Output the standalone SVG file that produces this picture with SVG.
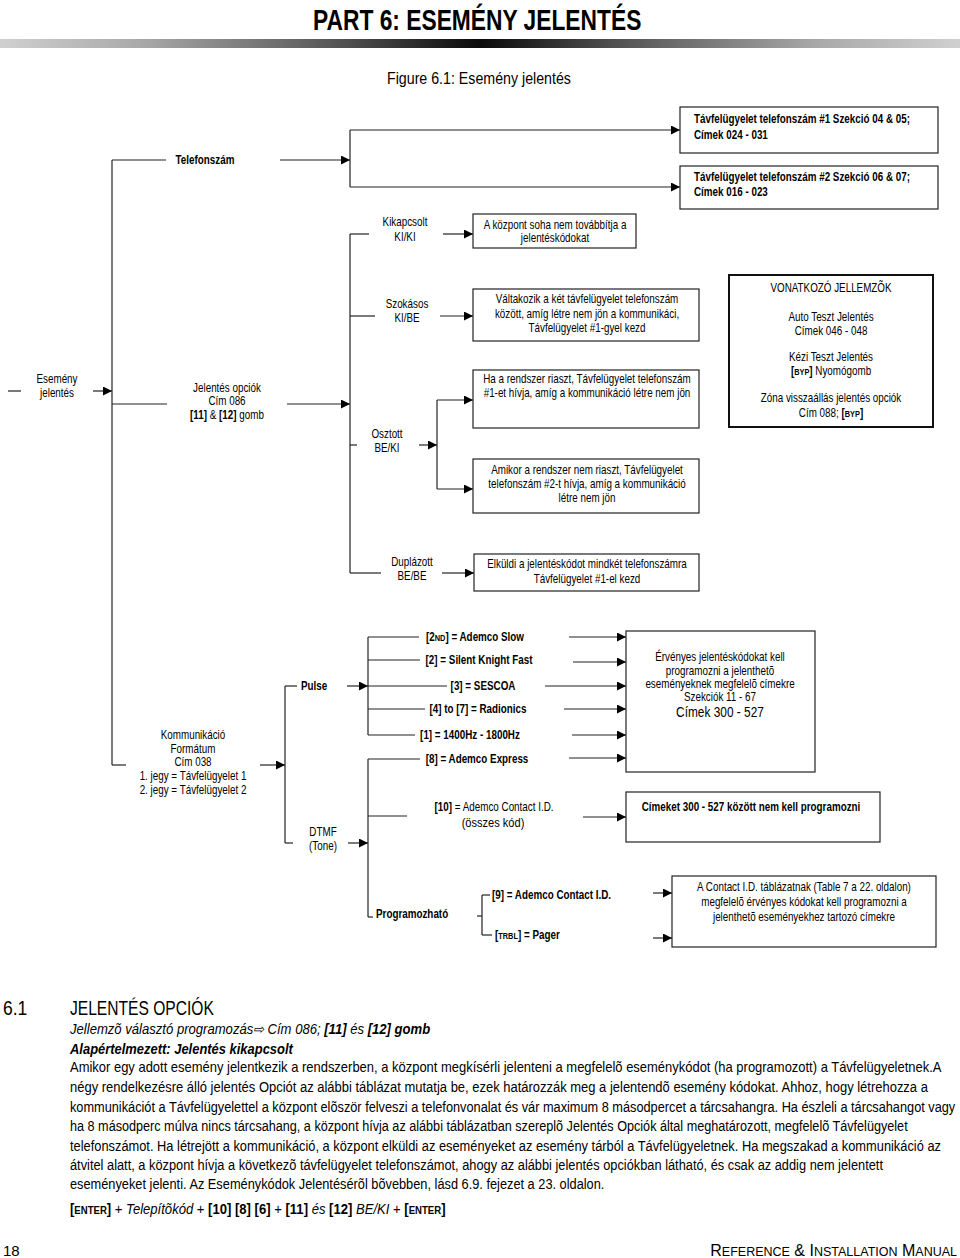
<svg xmlns="http://www.w3.org/2000/svg" width="960" height="1258" viewBox="0 0 960 1258">
<defs>
<linearGradient id="bar" x1="0" y1="0" x2="1" y2="0">
<stop offset="0" stop-color="#d0d0d0"/>
<stop offset="0.15" stop-color="#a8a8a8"/>
<stop offset="0.35" stop-color="#555"/>
<stop offset="0.5" stop-color="#0a0a0a"/>
<stop offset="0.65" stop-color="#555"/>
<stop offset="0.85" stop-color="#a8a8a8"/>
<stop offset="1" stop-color="#d0d0d0"/>
</linearGradient>
<marker id="ah" viewBox="0 0 10 10" refX="10" refY="5" markerWidth="9" markerHeight="9" markerUnits="userSpaceOnUse" orient="auto">
<path d="M0,0 L10,5 L0,10 z" fill="#000"/>
</marker>
</defs>
<style>
text{font-family:"Liberation Sans Narrow","Arial Narrow","Liberation Sans",Arial,sans-serif;fill:#000;font-size:12px}
.c{text-anchor:middle}
.b{font-weight:bold}
.i{font-style:italic}
.sc{font-size:9px}
.ln{stroke:#222;stroke-width:1.2;fill:none}
.ar{stroke:#222;stroke-width:1.2;fill:none;marker-end:url(#ah)}
.bx{fill:#fff;stroke:#222;stroke-width:1.2}
.p{font-size:14.5px}
</style>
<rect width="960" height="1258" fill="#fff"/>

<g id="header">
<text transform="translate(313 30) scale(.76 1)" class="b" style="font-size:30px">PART 6: ESEMÉNY JELENTÉS</text>
<rect x="0" y="39" width="960" height="9" fill="url(#bar)"/>
<text transform="translate(387 84) scale(.888 1)" style="font-size:16px">Figure 6.1:  Esemény jelentés</text>
</g>

<g id="connectors">
<line class="ln" x1="8" y1="391" x2="21" y2="391"/>
<line class="ar" x1="93" y1="391" x2="112" y2="391"/>
<line class="ln" x1="112" y1="160" x2="112" y2="765"/>
<line class="ln" x1="112" y1="160" x2="166" y2="160"/>
<line class="ar" x1="280" y1="160" x2="350" y2="160"/>
<line class="ln" x1="350" y1="130" x2="350" y2="187"/>
<line class="ar" x1="350" y1="130" x2="680" y2="130"/>
<line class="ar" x1="350" y1="187" x2="680" y2="187"/>
<line class="ln" x1="112" y1="404" x2="167" y2="404"/>
<line class="ar" x1="287" y1="404" x2="350" y2="404"/>
<line class="ln" x1="350" y1="234" x2="350" y2="573"/>
<line class="ln" x1="350" y1="234" x2="369" y2="234"/>
<line class="ar" x1="443" y1="234" x2="473" y2="234"/>
<line class="ln" x1="350" y1="316" x2="375" y2="316"/>
<line class="ar" x1="440" y1="316" x2="473" y2="316"/>
<line class="ln" x1="350" y1="445" x2="357" y2="445"/>
<line class="ar" x1="419" y1="445" x2="437" y2="445"/>
<line class="ln" x1="437" y1="400" x2="437" y2="489"/>
<line class="ar" x1="437" y1="400" x2="473" y2="400"/>
<line class="ar" x1="437" y1="489" x2="473" y2="489"/>
<line class="ln" x1="350" y1="573" x2="381" y2="573"/>
<line class="ar" x1="442" y1="573" x2="474" y2="573"/>
<line class="ln" x1="112" y1="765" x2="126" y2="765"/>
<line class="ar" x1="260" y1="765" x2="285" y2="765"/>
<line class="ln" x1="285" y1="686" x2="285" y2="843"/>
<line class="ln" x1="285" y1="686" x2="297" y2="686"/>
<line class="ar" x1="347" y1="686" x2="368" y2="686"/>
<line class="ln" x1="285" y1="843" x2="293" y2="843"/>
<line class="ar" x1="348" y1="843" x2="368" y2="843"/>
<line class="ln" x1="368" y1="637" x2="368" y2="735"/>
<line class="ln" x1="368" y1="637" x2="419" y2="637"/>
<line class="ln" x1="368" y1="660" x2="420" y2="660"/>
<line class="ln" x1="368" y1="686" x2="447" y2="686"/>
<line class="ln" x1="368" y1="709" x2="425" y2="709"/>
<line class="ln" x1="368" y1="735" x2="415" y2="735"/>
<line class="ln" x1="368" y1="759" x2="368" y2="917"/>
<line class="ln" x1="368" y1="759" x2="420" y2="759"/>
<line class="ln" x1="368" y1="816" x2="407" y2="816"/>
<line class="ln" x1="368" y1="917" x2="373" y2="917"/>
<line class="ar" x1="569" y1="637" x2="626" y2="637"/>
<line class="ar" x1="573" y1="662" x2="626" y2="662"/>
<line class="ar" x1="545" y1="686" x2="626" y2="686"/>
<line class="ar" x1="564" y1="709" x2="626" y2="709"/>
<line class="ar" x1="572" y1="735" x2="626" y2="735"/>
<line class="ar" x1="569" y1="758" x2="626" y2="758"/>
<line class="ar" x1="583" y1="817" x2="626" y2="817"/>
<line class="ln" x1="477" y1="916" x2="482" y2="916"/>
<line class="ln" x1="482" y1="895" x2="482" y2="935"/>
<line class="ln" x1="482" y1="895" x2="490" y2="895"/>
<line class="ln" x1="482" y1="935" x2="492" y2="935"/>
<line class="ar" x1="653" y1="893" x2="672" y2="893"/>
<line class="ar" x1="653" y1="938" x2="672" y2="938"/>
</g>

<g id="n-esemeny">
<text transform="translate(57 383) scale(.82 1)" class="c">Esemény</text>
<text transform="translate(57 397) scale(.82 1)" class="c">jelentés</text>
</g>
<g id="n-telefonszam">
<text transform="translate(205 164) scale(.82 1)" class="c b">Telefonszám</text>
</g>
<g id="n-tel1">
<rect class="bx" x="680" y="107" width="258" height="46"/>
<text transform="translate(694 123) scale(.82 1)" class="b">Távfelügyelet telefonszám #1 Szekció 04 &amp; 05;</text>
<text transform="translate(694 139) scale(.82 1)" class="b">Címek 024 - 031</text>
</g>
<g id="n-tel2">
<rect class="bx" x="680" y="166" width="258" height="43"/>
<text transform="translate(694 181) scale(.82 1)" class="b">Távfelügyelet telefonszám #2 Szekció 06 &amp; 07;</text>
<text transform="translate(694 196) scale(.82 1)" class="b">Címek 016 - 023</text>
</g>
<g id="n-jelopc">
<text transform="translate(227 392) scale(.82 1)" class="c">Jelentés opciók</text>
<text transform="translate(227 405) scale(.82 1)" class="c">Cím 086</text>
<text transform="translate(227 419) scale(.82 1)" class="c"><tspan class="b">[11]</tspan> &amp; <tspan class="b">[12]</tspan> gomb</text>
</g>
<g id="n-kikapcsolt">
<text transform="translate(405 226) scale(.82 1)" class="c">Kikapcsolt</text>
<text transform="translate(405 241) scale(.82 1)" class="c">KI/KI</text>
</g>
<g id="n-kikbox">
<rect class="bx" x="473" y="214" width="163" height="34"/>
<text transform="translate(555 229) scale(.82 1)" class="c">A központ soha nem továbbítja a</text>
<text transform="translate(555 242) scale(.82 1)" class="c">jelentéskódokat</text>
</g>
<g id="n-szokasos">
<text transform="translate(407 308) scale(.82 1)" class="c">Szokásos</text>
<text transform="translate(407 322) scale(.82 1)" class="c">KI/BE</text>
</g>
<g id="n-szokbox">
<rect class="bx" x="473" y="289" width="226" height="52"/>
<text transform="translate(587 303) scale(.82 1)" class="c">Váltakozik a két távfelügyelet telefonszám</text>
<text transform="translate(587 318) scale(.82 1)" class="c">között, amíg létre nem jön a kommunikáci,</text>
<text transform="translate(587 332) scale(.82 1)" class="c">Távfelügyelet  #1-gyel kezd</text>
</g>
<g id="n-osztott">
<text transform="translate(387 438) scale(.82 1)" class="c">Osztott</text>
<text transform="translate(387 452) scale(.82 1)" class="c">BE/KI</text>
</g>
<g id="n-osztbox1">
<rect class="bx" x="473" y="370" width="226" height="58"/>
<text transform="translate(587 383) scale(.82 1)" class="c">Ha a rendszer riaszt, Távfelügyelet telefonszám</text>
<text transform="translate(587 397) scale(.82 1)" class="c">#1-et hívja, amíg a kommunikáció létre nem jön</text>
</g>
<g id="n-osztbox2">
<rect class="bx" x="473" y="459" width="226" height="54"/>
<text transform="translate(587 474) scale(.82 1)" class="c">Amikor a rendszer nem riaszt, Távfelügyelet</text>
<text transform="translate(587 488) scale(.82 1)" class="c">telefonszám #2-t hívja, amíg a kommunikáció</text>
<text transform="translate(587 502) scale(.82 1)" class="c">létre nem jön</text>
</g>
<g id="n-vonatkozo">
<rect x="729" y="275" width="204" height="152" fill="#fff" stroke="#111" stroke-width="2"/>
<text transform="translate(831 292) scale(.82 1)" class="c">VONATKOZÓ JELLEMZÕK</text>
<text transform="translate(831 321) scale(.82 1)" class="c">Auto Teszt Jelentés</text>
<text transform="translate(831 335) scale(.82 1)" class="c">Címek 046 - 048</text>
<text transform="translate(831 361) scale(.82 1)" class="c">Kézi Teszt Jelentés</text>
<text transform="translate(831 375) scale(.82 1)" class="c"><tspan class="b">[<tspan class="sc">BYP</tspan>]</tspan> Nyomógomb</text>
<text transform="translate(831 402) scale(.82 1)" class="c">Zóna visszaállás jelentés opciók</text>
<text transform="translate(831 417) scale(.82 1)" class="c">Cím 088; <tspan class="b">[<tspan class="sc">BYP</tspan>]</tspan></text>
</g>
<g id="n-duplazott">
<text transform="translate(412 566) scale(.82 1)" class="c">Duplázott</text>
<text transform="translate(412 580) scale(.82 1)" class="c">BE/BE</text>
</g>
<g id="n-duplbox">
<rect class="bx" x="474" y="554" width="225" height="37"/>
<text transform="translate(587 568) scale(.82 1)" class="c">Elküldi a jelentéskódot mindkét telefonszámra</text>
<text transform="translate(587 583) scale(.82 1)" class="c">Távfelügyelet #1-el kezd</text>
</g>
<g id="n-kommunikacio">
<text transform="translate(193 739) scale(.82 1)" class="c">Kommunikáció</text>
<text transform="translate(193 753) scale(.82 1)" class="c">Formátum</text>
<text transform="translate(193 766) scale(.82 1)" class="c">Cím 038</text>
<text transform="translate(193 780) scale(.82 1)" class="c">1. jegy = Távfelügyelet 1</text>
<text transform="translate(193 794) scale(.82 1)" class="c">2. jegy = Távfelügyelet 2</text>
</g>
<g id="n-pulse">
<text transform="translate(314 690) scale(.82 1)" class="c b">Pulse</text>
</g>
<g id="n-dtmf">
<text transform="translate(323 836) scale(.82 1)" class="c">DTMF</text>
<text transform="translate(323 850) scale(.82 1)" class="c">(Tone)</text>
</g>
<g id="n-opt2nd"><text transform="translate(475 641) scale(.82 1)" class="c b">[2<tspan class="sc">ND</tspan>] = Ademco Slow</text></g>
<g id="n-opt2"><text transform="translate(479 664) scale(.82 1)" class="c b">[2] = Silent Knight Fast</text></g>
<g id="n-opt3"><text transform="translate(483 690) scale(.82 1)" class="c b">[3] = SESCOA</text></g>
<g id="n-opt4"><text transform="translate(478 713) scale(.82 1)" class="c b">[4] to [7] = Radionics</text></g>
<g id="n-opt1"><text transform="translate(470 739) scale(.82 1)" class="c b">[1] = 1400Hz - 1800Hz</text></g>
<g id="n-opt8"><text transform="translate(477 763) scale(.82 1)" class="c b">[8] = Ademco Express</text></g>
<g id="n-opt10">
<text transform="translate(494 811) scale(.82 1)" class="c"><tspan class="b">[10]</tspan> = Ademco Contact I.D.</text>
<text transform="translate(493 827) scale(.82 1)" class="c" style="font-size:13.5px">(összes kód)</text>
</g>
<g id="n-bigbox">
<rect class="bx" x="626" y="631" width="189" height="141"/>
<text transform="translate(720 661) scale(.82 1)" class="c">Érvényes jelentéskódokat kell</text>
<text transform="translate(720 675) scale(.82 1)" class="c">programozni a jelenthetõ</text>
<text transform="translate(720 688) scale(.82 1)" class="c">eseményeknek megfelelõ címekre</text>
<text transform="translate(720 701) scale(.82 1)" class="c">Szekciók 11 - 67</text>
<text transform="translate(720 717) scale(.82 1)" class="c" style="font-size:14.5px">Címek 300 - 527</text>
</g>
<g id="n-cimbox">
<rect class="bx" x="626" y="792" width="254" height="50"/>
<text transform="translate(751 811) scale(.82 1)" class="c b">Címeket 300 - 527 között nem kell programozni</text>
</g>
<g id="n-programozhato">
<text transform="translate(376 918) scale(.82 1)" class="b">Programozható</text>
</g>
<g id="n-opt9"><text transform="translate(492 899) scale(.82 1)" class="b">[9] = Ademco Contact I.D.</text></g>
<g id="n-trbl"><text transform="translate(495 939) scale(.82 1)" class="b">[<tspan class="sc">TRBL</tspan>] = Pager</text></g>
<g id="n-cidbox">
<rect class="bx" x="672" y="876" width="264" height="71"/>
<text transform="translate(804 891) scale(.82 1)" class="c">A Contact I.D. táblázatnak (Table 7 a 22. oldalon)</text>
<text transform="translate(804 906) scale(.82 1)" class="c">megfelelõ érvényes kódokat kell programozni a</text>
<text transform="translate(804 921) scale(.82 1)" class="c">jelenthetõ eseményekhez tartozó címekre</text>
</g>

<g id="body-text">
<text transform="translate(3 1015) scale(.875 1)" style="font-size:20px">6.1</text>
<text transform="translate(70 1015) scale(.78 1)" style="font-size:20px">JELENTÉS OPCIÓK</text>
<text transform="translate(70 1034) scale(.935 1)" class="i" style="font-size:14px">Jellemzõ választó programozás⇨ Cím 086; <tspan class="b">[11]</tspan> és <tspan class="b">[12] gomb</tspan></text>
<text transform="translate(70 1054) scale(.925 1)" class="b i" style="font-size:14px">Alapértelmezett: Jelentés kikapcsolt</text>
<text transform="translate(70 1072) scale(.894 1)" class="p">Amikor egy adott esemény jelentkezik a rendszerben, a központ megkísérli jelenteni a megfelelõ eseménykódot (ha programozott) a Távfelügyeletnek.A</text>
<text transform="translate(70 1092) scale(.895 1)" class="p">négy rendelkezésre álló jelentés Opciót az alábbi táblázat mutatja be, ezek határozzák meg a jelentendõ esemény kódokat. Ahhoz, hogy létrehozza a</text>
<text transform="translate(70 1112) scale(.88 1)" class="p">kommunikációt a Távfelügyelettel a központ elõször felveszi a telefonvonalat és vár maximum 8 másodpercet a tárcsahangra. Ha észleli a tárcsahangot vagy</text>
<text transform="translate(70 1131) scale(.872 1)" class="p">ha 8 másodperc múlva nincs tárcsahang, a központ hívja az alábbi táblázatban szereplõ Jelentés Opciók által meghatározott, megfelelõ Távfelügyelet</text>
<text transform="translate(70 1151) scale(.886 1)" class="p">telefonszámot. Ha létrejött a kommunikáció, a központ elküldi az eseményeket az esemény tárból a Távfelügyeletnek. Ha megszakad a kommunikáció az</text>
<text transform="translate(70 1170) scale(.884 1)" class="p">átvitel alatt, a központ hívja a következõ távfelügyelet telefonszámot, ahogy az alábbi jelentés opciókban látható, és csak az addig nem jelentett</text>
<text transform="translate(70 1189) scale(.883 1)" class="p">eseményeket jelenti. Az Eseménykódok Jelentésérõl bõvebben, lásd 6.9. fejezet a 23. oldalon.</text>
<text transform="translate(70 1214) scale(.872 1)" style="font-size:15px"><tspan class="b">[<tspan style="font-size:11px">ENTER</tspan>]</tspan> + <tspan class="i">Telepítõkód</tspan> + <tspan class="b">[10] [8] [6]</tspan> + <tspan class="b">[11]</tspan> <tspan class="i">és</tspan> <tspan class="b">[12]</tspan> <tspan class="i">BE/KI</tspan> + <tspan class="b">[<tspan style="font-size:11px">ENTER</tspan>]</tspan></text>
<text x="3" y="1256" style="font-size:15px">18</text>
<text x="957" y="1256" style="font-size:16px;text-anchor:end">R<tspan style="font-size:12.5px">EFERENCE</tspan> &amp; I<tspan style="font-size:12.5px">NSTALLATION</tspan> M<tspan style="font-size:12.5px">ANUAL</tspan></text>
</g>
</svg>
